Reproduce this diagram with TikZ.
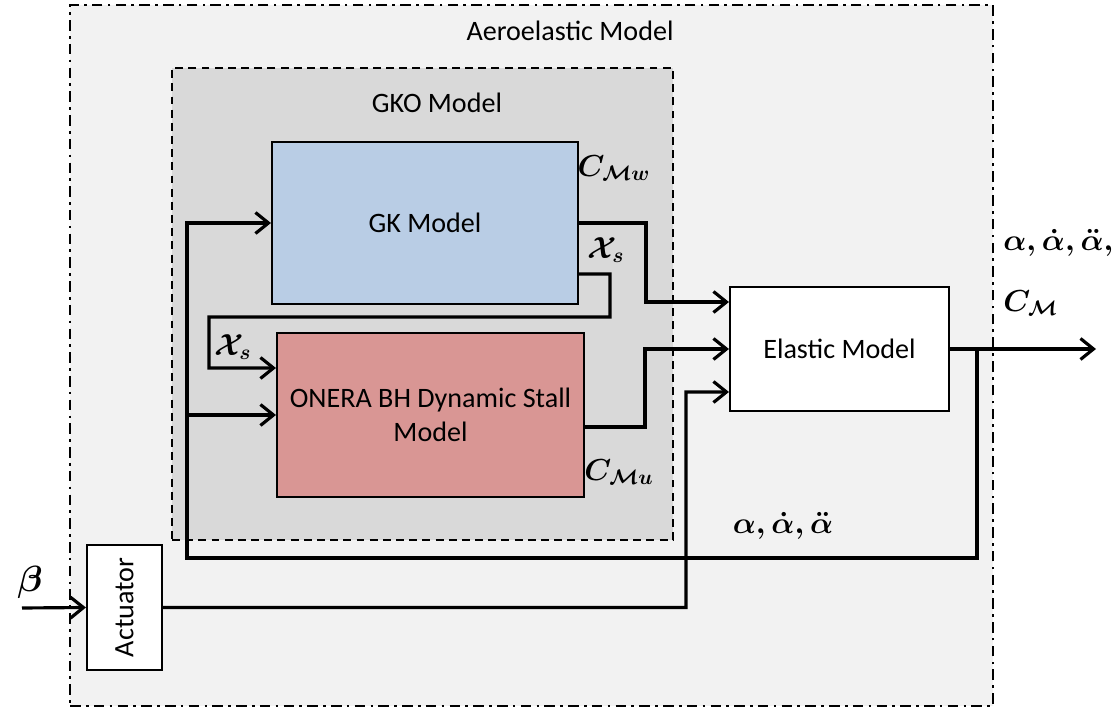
\documentclass[tikz,border=0pt]{standalone}
\usepackage{amsmath}
\usepackage{amssymb}
\usepackage{graphicx}
\usepackage{fontspec}
\setmainfont{Carlito}
\usetikzlibrary{arrows.meta}
\usetikzlibrary{positioning}
\definecolor{aerogray}{HTML}{F2F2F2}
\definecolor{gkogray}{HTML}{D9D9D9}
\definecolor{gkblue}{HTML}{B9CDE5}
\definecolor{onerared}{HTML}{D99694}
\tikzset{>={Straight Barb[length=2.6mm,width=4.2mm,line width=1.8pt]}, font=\fontsize{16}{19}\selectfont}
\tikzstyle{block} = [draw, line width=1.2pt, rectangle, inner sep=0pt, align=center]
\tikzstyle{aeroframe} = [draw, line width=1.3pt, fill=aerogray, dash pattern=on 6pt off 3pt on 1.5pt off 3pt, inner sep=0pt]
\tikzstyle{gkoframe} = [draw, line width=1.3pt, fill=gkogray, dash pattern=on 4.5pt off 3pt, inner sep=0pt]
\tikzstyle{sig} = [inner sep=0pt, font=\fontsize{17}{20}\selectfont\boldmath]
\tikzstyle{wire} = [line width=1.8pt]

\begin{document}
\begin{tikzpicture}[x=0.02cm, y=-0.02cm]
    \useasboundingbox (0,0) rectangle (1119,712);
    % frames
    \node [aeroframe, minimum width=18.46cm, minimum height=14.02cm] (aero) at (531.5,355.5) {};
    \node [anchor=center] (aero_title) at (570,31) {Aeroelastic Model};
    \node [gkoframe, minimum width=10.02cm, minimum height=9.44cm] (gko) at (422.5,304) {};
    \node [anchor=center] (gko_title) at (437,103) {GKO Model};
    % blocks
    \node [block, fill=gkblue, minimum width=6.12cm, minimum height=3.24cm] (gk) at (425,223) {GK Model};
    \node [block, fill=onerared, minimum width=6.14cm, minimum height=3.28cm] (onera) at (430.5,415) {ONERA BH Dynamic Stall\\Model};
    \node [block, fill=white, minimum width=4.38cm, minimum height=2.48cm] (elastic) at (839.5,349) {Elastic Model};
    \node [block, fill=white, minimum width=1.5cm, minimum height=2.5cm] (actuator) at (124.5,607.5) {\rotatebox{90}{Actuator}};
    \coordinate (beta_in) at (22,608);
    \coordinate (out) at (1096,349);
    \coordinate (fb) at (187,558);

    \draw [wire,->] (gk.east) -- ++(67,0) |- ([yshift=0.94cm]elastic.west);
    \draw [wire,->] ([yshift=-1.02cm]gk.east) -| (610,317) -| (209,368) -- ([yshift=0.94cm]onera.west);
    \draw [wire,->] ([yshift=-0.24cm]onera.east) -- ++(60,0) |- (elastic.west);
    \draw [wire,->] (elastic.east) -- (out);
    \draw [wire,->] ([xshift=0.54cm]elastic.east) |- (fb) |- (gk.west);
    \draw [wire,->] (fb |- onera.west) -- (onera.west);
    \draw [wire,->] (actuator.east) -| (686,392) -- ([yshift=-0.86cm]elastic.west);
    \draw [wire,->] (beta_in) -- (actuator.west);

    % signal labels
    \node [sig] (c_mw) at (614,168) {$C_{\mathcal{M}w}$};
    \node [sig] (xs_gk) at (606,250) {$\mathcal{X}_s$};
    \node [sig] (xs_onera) at (233,347) {$\mathcal{X}_s$};
    \node [sig] (c_mu) at (619,472) {$C_{\mathcal{M}u}$};
    \node [sig, anchor=west] (alpha_out) at (1003,243) {$\alpha\mathpunct{,}\dot{\alpha}\mathpunct{,}\ddot{\alpha}\mathpunct{,}$};
    \node [sig, anchor=west] (c_m) at (1003,303) {$C_{\mathcal{M}}$};
    \node [sig] (alpha_fb) at (783,526) {$\alpha\mathpunct{,}\dot{\alpha}\mathpunct{,}\ddot{\alpha}$};
    \node [sig, font=\fontsize{20}{22}\selectfont\boldmath] (beta) at (30,582) {$\beta$};
\end{tikzpicture}
\end{document}
